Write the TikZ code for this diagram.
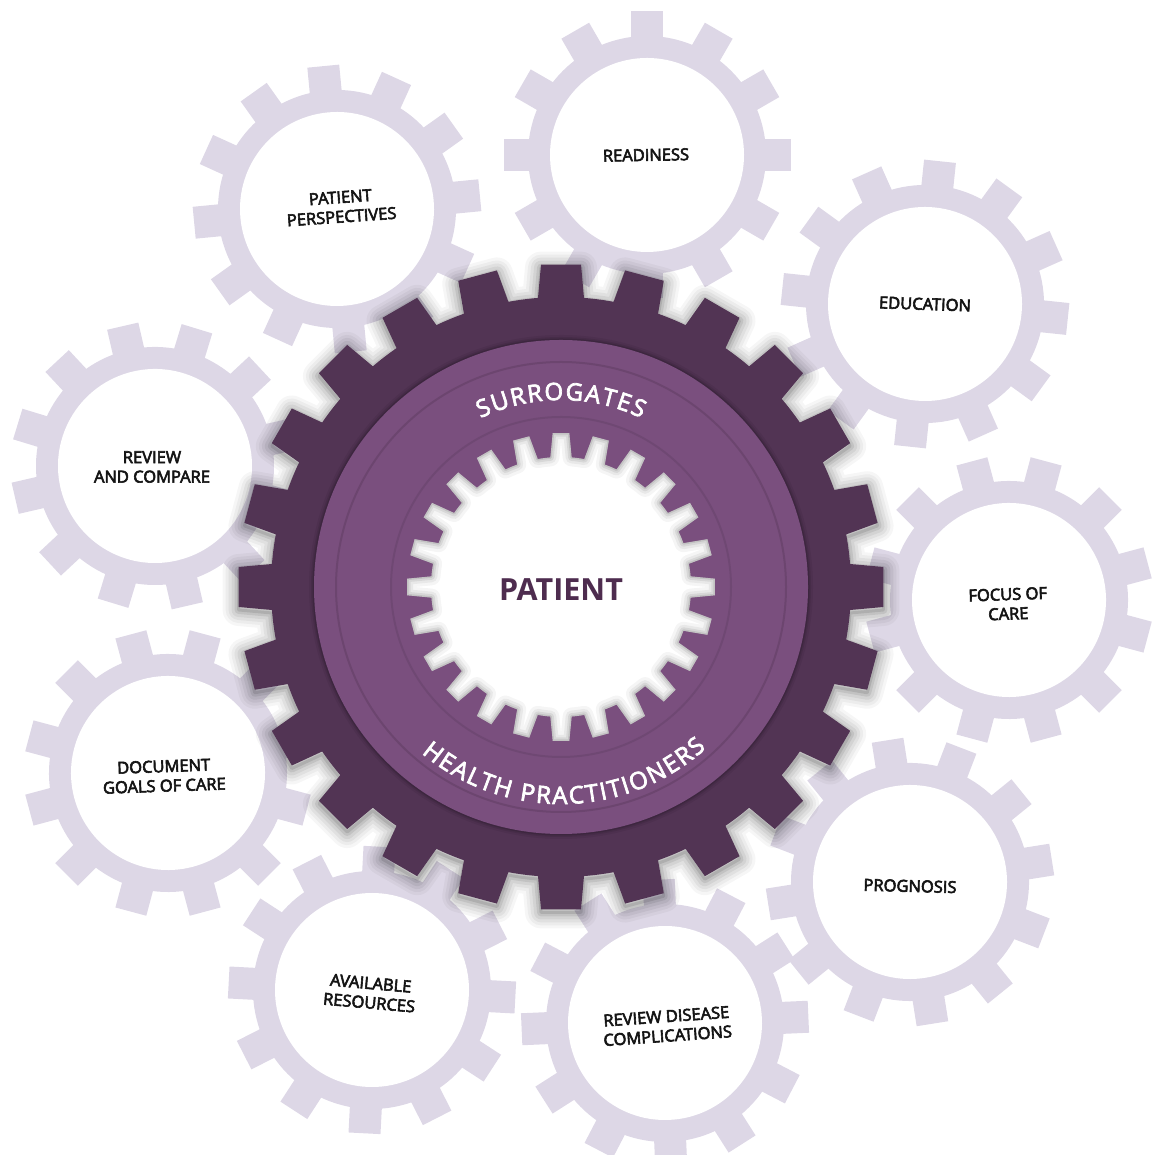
\documentclass[tikz,border=0pt]{standalone}
\usepackage{fontspec}
\setmainfont{Open Sans}
\newfontfamily\lblfont[FakeBold=3.5]{Open Sans}
\newfontfamily\arcfont[FakeBold=3]{Open Sans}
\usetikzlibrary{decorations.text}

\definecolor{cogfill}{HTML}{DDD7E6}
\definecolor{plumdark}{HTML}{523454}
\definecolor{plummid}{HTML}{7A4F7E}
\definecolor{plumtext}{HTML}{4E2C4F}

% satellite gear: centre x, centre y, tooth rotation
\newcommand{\satcog}[3]{%
  \begin{scope}[shift={(#1,#2)}, rotate=#3]
    \fill[cogfill] (0,0) circle[radius=119];
    \foreach \a in {0,30,...,330}
      \fill[cogfill, rotate=\a] (105,-16) rectangle (143.5,16);
    \fill[white] (0,0) circle[radius=97];
  \end{scope}%
}

% outline of the large drive gear (24 teeth)
\newcommand{\drivegear}{%
  (-4.55:290) \foreach \i in {0,...,23}{
    -- ({15*\i-4.55}:290) -- ({15*\i-3.55}:323) -- ({15*\i+3.55}:323) -- ({15*\i+4.55}:290)
    arc[start angle={15*\i+4.55}, end angle={15*\i+10.45}, radius=290]
  } -- cycle}

% outline of the white hub gear (24 teeth)
\newcommand{\hubgear}{%
  (-4.7:130) \foreach \i in {0,...,23}{
    -- ({15*\i-4.7}:130) -- ({15*\i-3.1}:154) -- ({15*\i+3.1}:154) -- ({15*\i+4.7}:130)
    arc[start angle={15*\i+4.7}, end angle={15*\i+10.3}, radius=130]
  } -- cycle}

\begin{document}
\begin{tikzpicture}[x=1pt, y=1pt,
  lbl/.style={align=center, inner sep=0pt, text=black!92,
    font=\lblfont\fontsize{16.5}{19.5}\selectfont}]
\useasboundingbox (0,0) rectangle (1152,1155);

% satellite gears
\satcog{647}{1000}{0}
\satcog{337}{946}{5.5}
\satcog{925}{851}{-6}
\satcog{1009}{555}{15}
\satcog{910}{273}{9}
\satcog{665}{132}{2.5}
\satcog{372}{165}{-3}
\satcog{168}{382}{15}
\satcog{155}{689}{13}

\node[lbl, rotate=1]  (readiness)   at (646,1000) {READINESS};
\node[lbl, rotate=4]  (perspective) at (341,948)  {PATIENT\\PERSPECTIVES};
\node[lbl, rotate=-2] (education)   at (925,851)  {EDUCATION};
\node[lbl, rotate=2]  (focus)       at (1008,551) {FOCUS OF\\CARE};
\node[lbl, rotate=-1.5] (prognosis) at (910,269)  {PROGNOSIS};
\node[lbl, rotate=4]  (disease)     at (667,129)  {REVIEW DISEASE\\COMPLICATIONS};
\node[lbl, rotate=-5] (resources)   at (370,162)  {AVAILABLE\\RESOURCES};
\node[lbl, rotate=2]  (goals)       at (164,379)  {DOCUMENT\\GOALS OF CARE};
\node[lbl]            (compare)     at (152,688)  {REVIEW\\AND COMPARE};

% central drive gear
\begin{scope}[shift={(561,568)}]
  % soft drop shadow
  \foreach \w/\o in {32/0.035, 26/0.04, 20/0.05, 14/0.06, 8/0.08, 3/0.1}
    \draw[black, opacity=\o, line width=\w pt, line join=round, yshift=-3pt] \drivegear;
  \fill[plumdark] \drivegear;

  % raised inner disk with its rim
  \foreach \w/\o in {10/0.06, 6/0.08, 3/0.12}
    \draw[black, opacity=\o, line width=\w pt] (0,0) circle[radius=247];
  \fill[plummid] (0,0) circle[radius=247];
  \draw[plumdark, opacity=0.35, line width=2pt] (0,0) circle[radius=225];
  \draw[plumdark, opacity=0.25, line width=2pt] (0,0) circle[radius=170];

  % recessed white hub gear
  \fill[white] \hubgear;
  \begin{scope}
    \clip \hubgear;
    \foreach \w/\o in {18/0.04, 12/0.05, 7/0.07, 3/0.09}
      \draw[black, opacity=\o, line width=\w pt, line join=round] \hubgear;
  \end{scope}

  \node[font=\bfseries\fontsize{30.5}{30.5}\selectfont, text=plumtext] (patient) at (0,-3) {PATIENT};

  \path[decorate, decoration={text along path, text align={fit to path}, text color=white,
      text={|\arcfont\fontsize{24}{24}\selectfont|SURROGATES}}]
    (115.5:187) arc[start angle=115.5, end angle=64.5, radius=187];
  \path[decorate, decoration={text along path, text align={fit to path}, text color=white,
      text={|\arcfont\fontsize{24}{24}\selectfont|HEALTH PRACTITIONERS}}]
    (230:217) arc[start angle=230, end angle=312, radius=217];
\end{scope}
\end{tikzpicture}
\end{document}
